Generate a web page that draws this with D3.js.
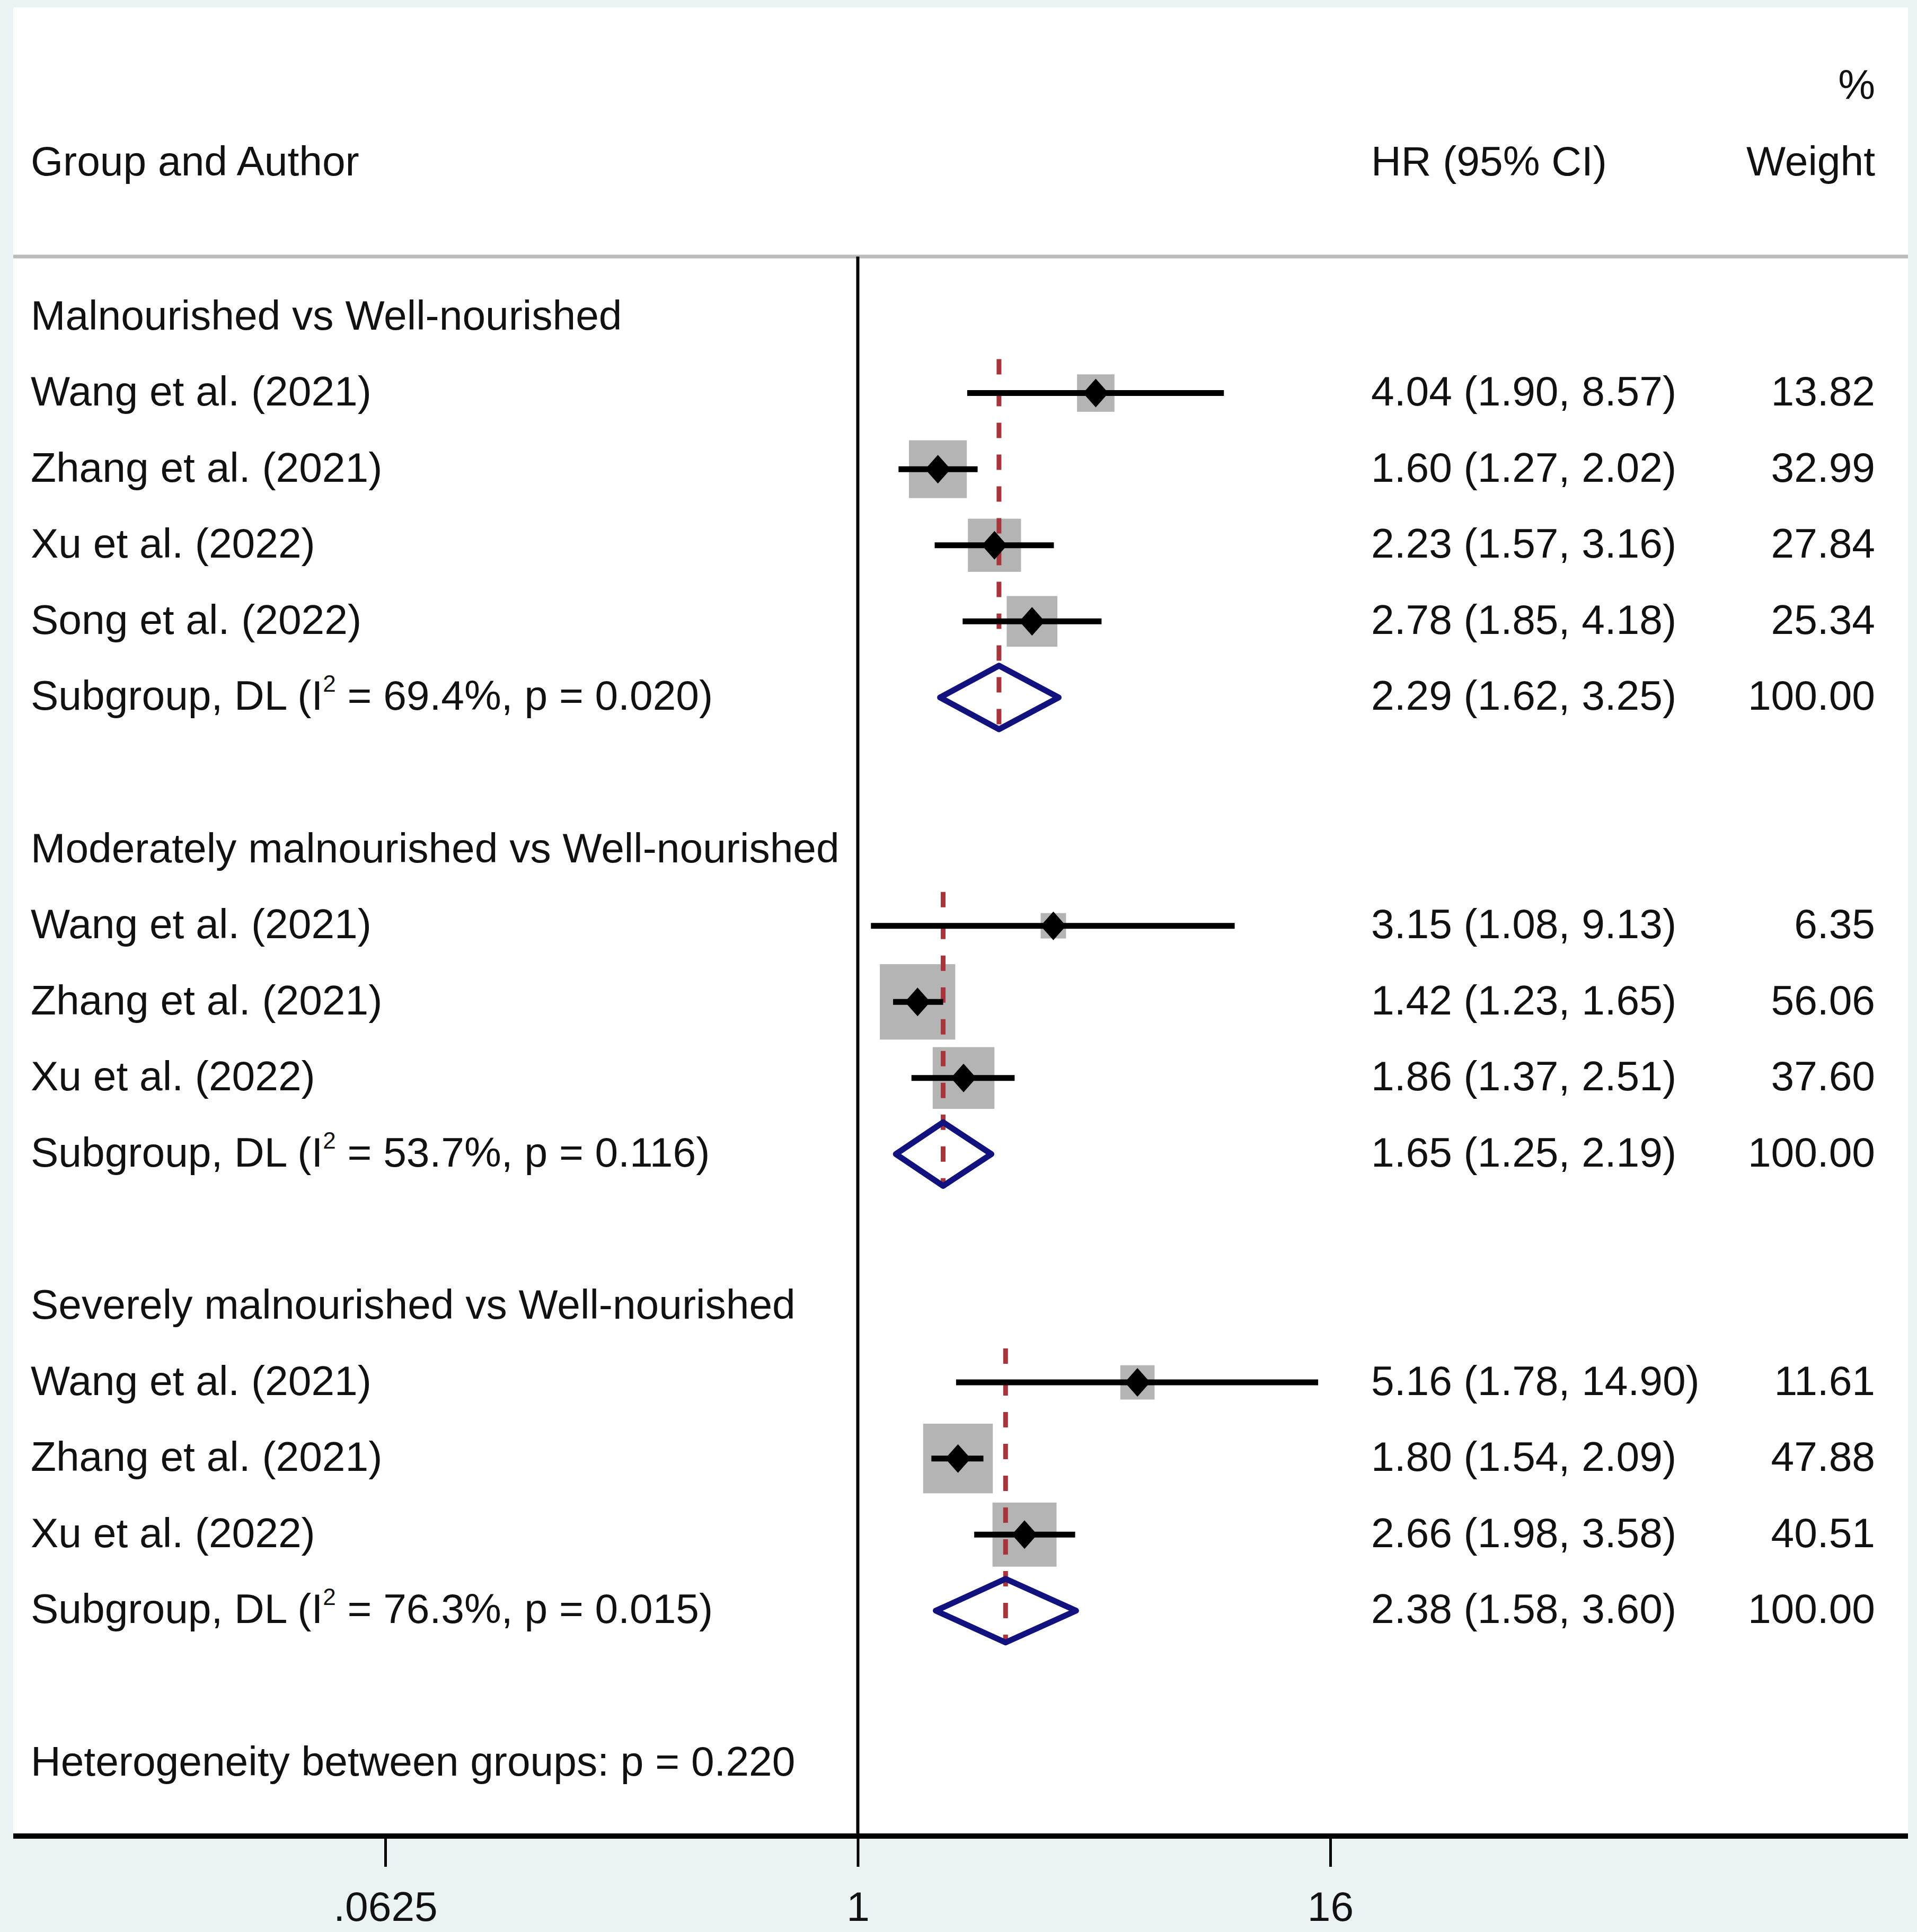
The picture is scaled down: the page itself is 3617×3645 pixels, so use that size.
<!DOCTYPE html>
<html>
<head>
<meta charset="utf-8">
<title>Forest plot</title>
<script src="https://cdn.jsdelivr.net/npm/d3@7"></script>
<style>
  body { margin: 0; background: #eaf2f3; }
  text { font-family: "Liberation Sans", Arial, sans-serif; fill: #111; }
</style>
</head>
<body>
<script>
// ---- data ----
var groupLabels = ["Malnourished vs Well-nourished",
                   "Moderately malnourished vs Well-nourished",
                   "Severely malnourished vs Well-nourished"];

var studyGroup = [0, 0, 0, 0, 1, 1, 1, 2, 2, 2];
var studyNames = ["Wang et al. (2021)", "Zhang et al. (2021)", "Xu et al. (2022)", "Song et al. (2022)",
                  "Wang et al. (2021)", "Zhang et al. (2021)", "Xu et al. (2022)",
                  "Wang et al. (2021)", "Zhang et al. (2021)", "Xu et al. (2022)"];
var studyHR  = [4.04, 1.60, 2.23, 2.78, 3.15, 1.42, 1.86, 5.16, 1.80, 2.66];
var studyLo  = [1.90, 1.27, 1.57, 1.85, 1.08, 1.23, 1.37, 1.78, 1.54, 1.98];
var studyHi  = [8.57, 2.02, 3.16, 4.18, 9.13, 1.65, 2.51, 14.90, 2.09, 3.58];
var studyWt  = [13.82, 32.99, 27.84, 25.34, 6.35, 56.06, 37.60, 11.61, 47.88, 40.51];

var subHR = [2.29, 1.65, 2.38];
var subLo = [1.62, 1.25, 1.58];
var subHi = [3.25, 2.19, 3.60];
var subI2 = ["69.4%", "53.7%", "76.3%"];
var subP  = ["0.020", "0.116", "0.015"];

var hetText = "Heterogeneity between groups: p = 0.220";
var tickVals = [0.0625, 1, 16];
var tickLabels = [".0625", "1", "16"];

// ---- layout ----
var W = 3617, H = 3645;
var fs = 78.5;
var plotL = 25, plotR = 3600, plotT = 14, axisY = 3464;
var colLabel = 58, colHR = 2587, colWt = 3538;

var svg = d3.select("body").append("svg")
    .attr("width", W)
    .attr("height", H);

svg.append("rect").attr("width", W).attr("height", H).attr("fill", "#eaf2f3");
svg.append("rect")
    .attr("x", plotL).attr("y", plotT)
    .attr("width", plotR - plotL).attr("height", axisY - plotT)
    .attr("fill", "#fff");

var x = d3.scaleLog().base(2).domain([1 / 16, 16]).range([727, 2510]);
var y = d3.scaleLinear().domain([0, 19]).range([598, 3326]);
var side = d3.scaleSqrt().domain([0, 100]).range([0, 190]);

// build row list: group header, studies, subgroup, blank
var rows = [], r = 0;
groupLabels.forEach(function(g, gi) {
  rows.push({type: "group", label: g, row: r++});
  studyNames.forEach(function(n, i) {
    if (studyGroup[i] !== gi) return;
    rows.push({type: "study", label: n, hr: studyHR[i], lo: studyLo[i], hi: studyHi[i], wt: studyWt[i], row: r++});
  });
  rows.push({type: "sub", gi: gi, hr: subHR[gi], lo: subLo[gi], hi: subHi[gi], wt: 100, row: r++});
  r++;
});
var studies = rows.filter(function(d) { return d.type === "study"; });
var subs = rows.filter(function(d) { return d.type === "sub"; });
var f2 = d3.format(".2f");
var dy = "0.3em";

// header
svg.append("text").attr("x", colLabel).attr("y", 307).attr("dy", dy)
    .attr("font-size", fs).text("Group and Author");
svg.append("text").attr("x", colHR).attr("y", 307).attr("dy", dy)
    .attr("font-size", fs).text("HR (95% CI)");
svg.append("text").attr("x", colWt).attr("y", 307).attr("dy", dy)
    .attr("font-size", fs).attr("text-anchor", "end").text("Weight");
svg.append("text").attr("x", colWt).attr("y", 163).attr("dy", dy)
    .attr("font-size", fs).attr("text-anchor", "end").text("%");

svg.append("line")
    .attr("x1", plotL).attr("x2", plotR).attr("y1", 484).attr("y2", 484)
    .attr("stroke", "#bcbcbc").attr("stroke-width", 7);

// null line
svg.append("line")
    .attr("x1", x(1)).attr("x2", x(1)).attr("y1", 484).attr("y2", axisY)
    .attr("stroke", "#000").attr("stroke-width", 6);

// weight boxes
svg.selectAll(".box").data(studies).enter().append("rect")
    .attr("class", "box")
    .attr("x", function(d) { return x(d.hr) - side(d.wt) / 2; })
    .attr("y", function(d) { return y(d.row) - side(d.wt) / 2; })
    .attr("width", function(d) { return side(d.wt); })
    .attr("height", function(d) { return side(d.wt); })
    .attr("fill", "#b4b4b4");

// dashed subgroup estimate lines
svg.selectAll(".est").data(subs).enter().append("line")
    .attr("class", "est")
    .attr("x1", function(d) { return x(d.hr); })
    .attr("x2", function(d) { return x(d.hr); })
    .attr("y1", function(d) { return y(d.row - 4 + (d.gi > 0 ? 1 : 0)) - 64; })
    .attr("y2", function(d) { return y(d.row) + 64; })
    .attr("stroke", "#a8343c").attr("stroke-width", 9)
    .attr("stroke-dasharray", "29,31");

// confidence intervals
svg.selectAll(".ci").data(studies).enter().append("line")
    .attr("class", "ci")
    .attr("x1", function(d) { return x(d.lo); })
    .attr("x2", function(d) { return x(d.hi); })
    .attr("y1", function(d) { return y(d.row); })
    .attr("y2", function(d) { return y(d.row); })
    .attr("stroke", "#000").attr("stroke-width", 11);

// point estimates
svg.selectAll(".pt").data(studies).enter().append("path")
    .attr("class", "pt")
    .attr("d", function(d) {
      var cx = x(d.hr), cy = y(d.row);
      return "M" + (cx - 24) + "," + cy + "L" + cx + "," + (cy - 27) +
             "L" + (cx + 24) + "," + cy + "L" + cx + "," + (cy + 27) + "Z";
    })
    .attr("fill", "#000");

// subgroup diamonds
svg.selectAll(".dia").data(subs).enter().append("path")
    .attr("class", "dia")
    .attr("d", function(d) {
      var cy = y(d.row);
      return "M" + x(d.lo) + "," + cy + "L" + x(d.hr) + "," + (cy - 60) +
             "L" + x(d.hi) + "," + cy + "L" + x(d.hr) + "," + (cy + 60) + "Z";
    })
    .attr("fill", "none").attr("stroke", "#12127e").attr("stroke-width", 11)
    .attr("stroke-linejoin", "round");

// left labels
svg.selectAll(".lab").data(rows.filter(function(d) { return d.type !== "sub"; })).enter().append("text")
    .attr("class", "lab")
    .attr("x", colLabel).attr("y", function(d) { return y(d.row); }).attr("dy", dy)
    .attr("font-size", fs).text(function(d) { return d.label; });

var subLab = svg.selectAll(".sublab").data(subs).enter().append("text")
    .attr("class", "sublab")
    .attr("x", colLabel).attr("y", function(d) { return y(d.row) + 0.3 * fs; })
    .attr("font-size", fs);
subLab.append("tspan").text("Subgroup, DL (I");
subLab.append("tspan").attr("font-size", 44).attr("dy", -34).text("2");
subLab.append("tspan").attr("dy", 34).text(function(d) { return " = " + subI2[d.gi] + ", p = " + subP[d.gi] + ")"; });

svg.append("text").attr("x", colLabel).attr("y", y(19)).attr("dy", dy)
    .attr("font-size", fs).text(hetText);

// right columns
var est = rows.filter(function(d) { return d.type !== "group"; });
svg.selectAll(".hrt").data(est).enter().append("text")
    .attr("class", "hrt")
    .attr("x", colHR).attr("y", function(d) { return y(d.row); }).attr("dy", dy)
    .attr("font-size", fs)
    .text(function(d) { return f2(d.hr) + " (" + f2(d.lo) + ", " + f2(d.hi) + ")"; });
svg.selectAll(".wtt").data(est).enter().append("text")
    .attr("class", "wtt")
    .attr("x", colWt).attr("y", function(d) { return y(d.row); }).attr("dy", dy)
    .attr("font-size", fs).attr("text-anchor", "end")
    .text(function(d) { return f2(d.wt); });

// x axis
var axis = svg.append("g")
    .attr("transform", "translate(0," + axisY + ")")
    .call(d3.axisBottom(x).tickValues(tickVals).tickSize(58).tickPadding(46)
      .tickFormat(function(d, i) { return tickLabels[i]; }));
axis.select(".domain").remove();
axis.selectAll(".tick line").attr("stroke", "#000").attr("stroke-width", 5);
axis.selectAll(".tick text").attr("font-size", fs).attr("fill", "#111")
    .attr("font-family", "Liberation Sans, Arial, sans-serif");
svg.append("line")
    .attr("x1", plotL).attr("x2", plotR).attr("y1", axisY).attr("y2", axisY)
    .attr("stroke", "#000").attr("stroke-width", 10);
</script>
</body>
</html>
